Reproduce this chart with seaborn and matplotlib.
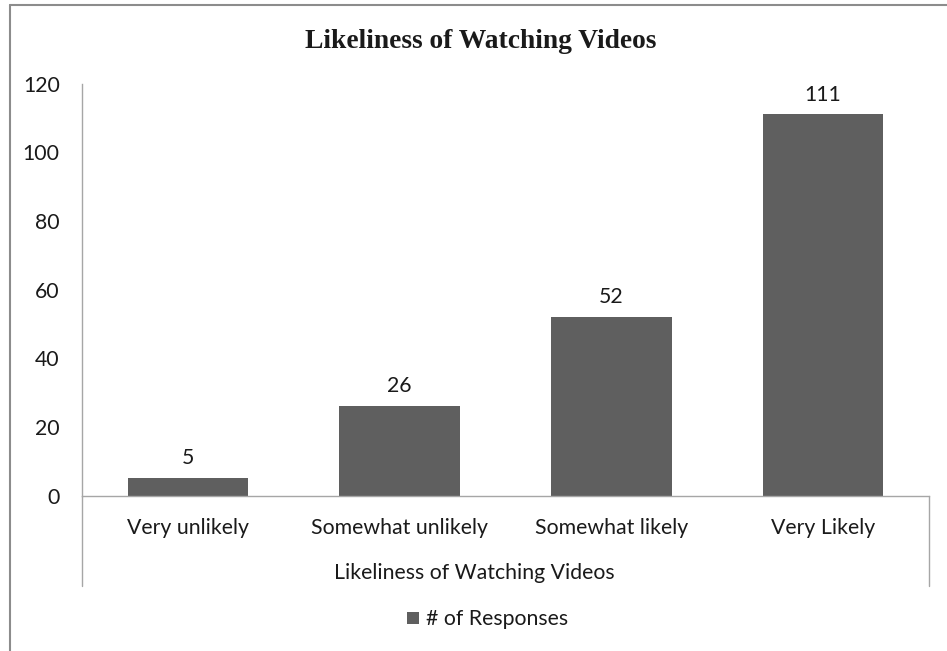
import matplotlib
matplotlib.use("Agg")
import matplotlib.pyplot as plt
import seaborn as sns
import pandas as pd
from matplotlib.lines import Line2D
from matplotlib.patches import Rectangle

categories = ["Very unlikely", "Somewhat unlikely", "Somewhat likely", "Very Likely"]
responses = [5, 26, 52, 111]
yticks = [0, 20, 40, 60, 80, 100, 120]
title = "Likeliness of Watching Videos"
xlabel = "Likeliness of Watching Videos"
series_name = "# of Responses"

sns.set_theme(style="white")
plt.rcParams['font.family'] = ['Lato', 'DejaVu Sans']

FS = 15.3
TXT = "#1a1a1a"
W, H = 947, 651
fig = plt.figure(figsize=(W / 100, H / 100), dpi=100)
y0, ytop = 495.5, 83.5
ax = fig.add_axes([82 / W, 1 - y0 / H, (929 - 82) / W, (y0 - ytop) / H])

df = pd.DataFrame({"cat": categories, "val": responses})
bar_color = "#5f5f5f"
sns.barplot(data=df, x="cat", y="val", color=bar_color, width=0.57, ax=ax,
            saturation=1, edgecolor="none")

ax.set_ylim(0, 120)
ax.set_xlim(-0.5, len(categories) - 0.5)
ax.set_yticks(yticks)
ax.set_yticklabels([str(v) for v in yticks], fontsize=FS, color=TXT)
ax.tick_params(axis="y", length=0, pad=16)
ax.tick_params(axis="x", length=0, pad=16, labelsize=FS, labelcolor=TXT)
ax.set_xlabel("")
ax.set_ylabel("")

for s in ["top", "right"]:
    ax.spines[s].set_visible(False)
for s in ["left", "bottom"]:
    ax.spines[s].set_color("#a6a6a6")
    ax.spines[s].set_linewidth(1.0)

# value labels
for i, v in enumerate(responses):
    ax.annotate(str(v), (i, v), xytext=(0, 10), textcoords="offset points",
                ha="center", va="baseline", fontsize=FS, color=TXT)

# extended lines below axis (category axis box)
ext = (586 - y0) / (y0 - ytop)
for xa in [0, 1]:
    ax.add_line(Line2D([xa, xa], [0, -ext], transform=ax.transAxes,
                       color="#a6a6a6", lw=1.0, clip_on=False))

# titles
fig.text(481 / W, 1 - 41 / H, title, ha="center", va="center",
         fontsize=19.8, fontweight="bold", family="Liberation Serif", color=TXT)
fig.text(474 / W, 1 - 573 / H, xlabel, ha="center", va="center",
         fontsize=FS, color=TXT)

# legend
fig.patches.append(Rectangle((407 / W, 1 - 624 / H), 12 / W, 12 / H,
                             transform=fig.transFigure, facecolor=bar_color,
                             edgecolor="none"))
fig.text(426 / W, 1 - 619 / H, series_name, ha="left", va="center",
         fontsize=FS, color=TXT)

# outer border (left and top visible)
fig.add_artist(Line2D([10 / W, 10 / W], [0, 1 - 5 / H], transform=fig.transFigure,
                      color="#8c8c8c", lw=1.5))
fig.add_artist(Line2D([10 / W, 1], [1 - 5 / H, 1 - 5 / H], transform=fig.transFigure,
                      color="#8c8c8c", lw=1.5))

fig.savefig("out.png", dpi=100, facecolor="white")
